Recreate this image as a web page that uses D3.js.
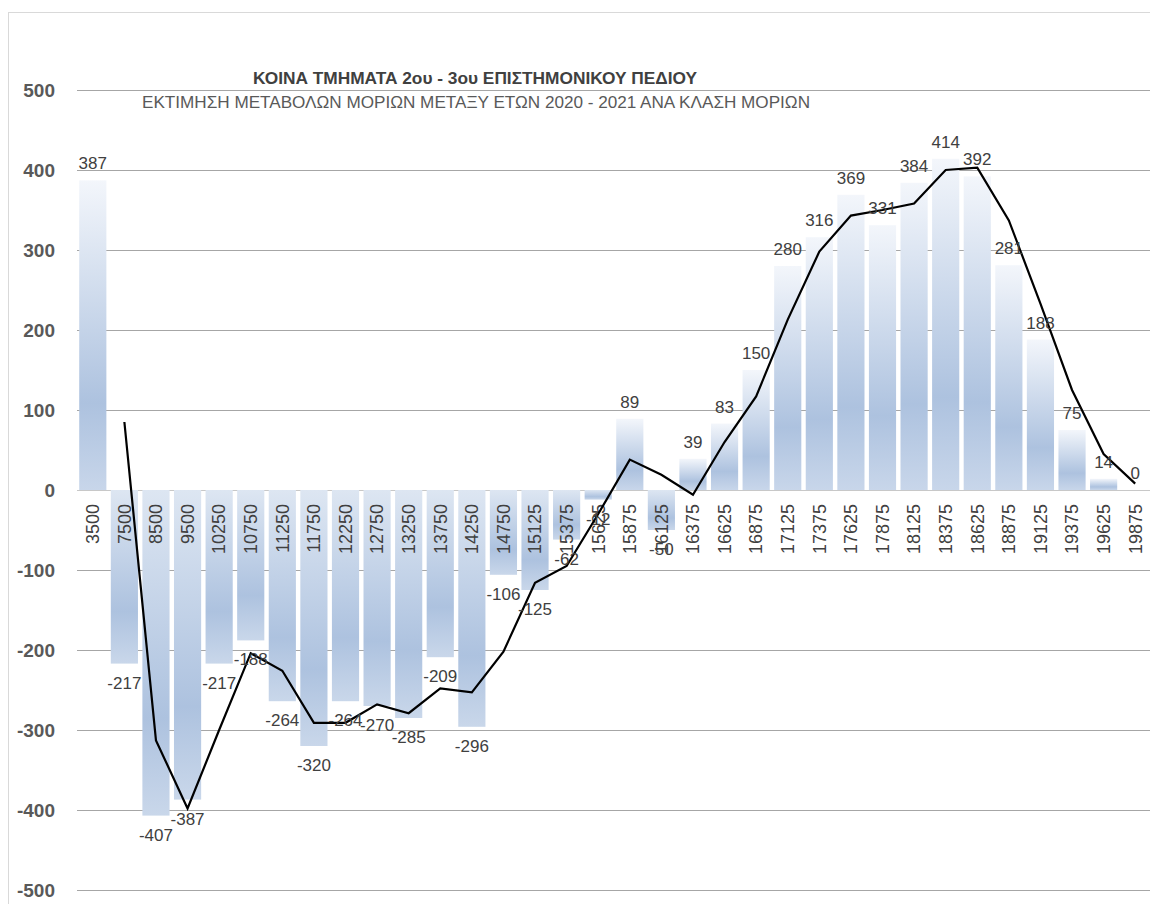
<!DOCTYPE html>
<html>
<head>
<meta charset="utf-8">
<script src="https://cdn.jsdelivr.net/npm/d3@7"></script>
<style>
  html, body { margin: 0; padding: 0; background: #fff; }
  svg { display: block; }
  text { font-family: "Liberation Sans", "DejaVu Sans", sans-serif; }
</style>
</head>
<body>
<svg id="chart" width="1150" height="904"></svg>
<script>
// ---- data ----
const categories = ["3500","7500","8500","9500","10250","10750","11250","11750","12250","12750",
  "13250","13750","14250","14750","15125","15375","15625","15875","16125","16375",
  "16625","16875","17125","17375","17625","17875","18125","18375","18625","18875",
  "19125","19375","19625","19875"];
const barValues = [387,-217,-407,-387,-217,-188,-264,-320,-264,-270,
  -285,-209,-296,-106,-125,-62,-12,89,-50,39,
  83,150,280,316,369,331,384,414,392,281,
  188,75,14,0];
const lineValues = [null,85,-313,-398,-300,-204,-226,-291,-291,-268,
  -279,-248,-253,-202,-116,-95,-30,38,19,-6,
  60,117,213,298,343,350,358,400,403,337,
  233,125,45,8];
const yTicks = [500,400,300,200,100,0,-100,-200,-300,-400,-500];
const titleText = "ΚΟΙΝΑ ΤΜΗΜΑΤΑ 2ου - 3ου ΕΠΙΣΤΗΜΟΝΙΚΟΥ ΠΕΔΙΟΥ";
const subtitleText = "ΕΚΤΙΜΗΣΗ ΜΕΤΑΒΟΛΩΝ ΜΟΡΙΩΝ ΜΕΤΑΞΥ ΕΤΩΝ 2020 - 2021 ΑΝΑ ΚΛΑΣΗ ΜΟΡΙΩΝ";

// ---- layout ----
const svg = d3.select("#chart");
const plotLeft = 77, plotRight = 1151;
const x = d3.scaleBand().domain(categories).range([plotLeft, plotRight])
  .paddingInner(0.14).paddingOuter(0.07);
const y = d3.scaleLinear().domain([-500, 500]).range([890, 90]);

// border
svg.append("rect").attr("x", 8.5).attr("y", 12.5).attr("width", 1160).attr("height", 920)
  .attr("fill", "#fff").attr("stroke", "#d9d9d9").attr("stroke-width", 1);

// gradients
const defs = svg.append("defs");
const gPos = defs.append("linearGradient").attr("id", "gPos")
  .attr("x1", 0).attr("y1", 0).attr("x2", 0).attr("y2", 1);
gPos.append("stop").attr("offset", 0).attr("stop-color", "#f3f6fb");
gPos.append("stop").attr("offset", 0.72).attr("stop-color", "#adc2df");
gPos.append("stop").attr("offset", 1).attr("stop-color", "#c8d6ea");
const gNeg = defs.append("linearGradient").attr("id", "gNeg")
  .attr("x1", 0).attr("y1", 0).attr("x2", 0).attr("y2", 1);
gNeg.append("stop").attr("offset", 0).attr("stop-color", "#dde6f2");
gNeg.append("stop").attr("offset", 0.7).attr("stop-color", "#adc2df");
gNeg.append("stop").attr("offset", 1).attr("stop-color", "#c9d7ea");

// gridlines
svg.append("g").selectAll("line").data(yTicks).join("line")
  .attr("x1", plotLeft).attr("x2", 1150)
  .attr("y1", d => Math.round(y(d)) + 0.5).attr("y2", d => Math.round(y(d)) + 0.5)
  .attr("stroke", d => d === 0 ? "#c8c8c8" : "#a6a6a6").attr("stroke-width", 1.2);

// y axis labels
svg.append("g").selectAll("text").data(yTicks).join("text")
  .attr("x", 55).attr("y", d => y(d)).attr("dy", "0.35em")
  .attr("text-anchor", "end").attr("font-size", 19).attr("font-weight", "bold")
  .attr("fill", "#595959").text(d => d);

// bars
svg.append("g").selectAll("rect").data(categories).join("rect")
  .attr("x", d => x(d))
  .attr("width", x.bandwidth())
  .attr("y", (d, i) => Math.min(y(0), y(barValues[i])))
  .attr("height", (d, i) => Math.abs(y(barValues[i]) - y(0)))
  .attr("fill", (d, i) => barValues[i] >= 0 ? "url(#gPos)" : "url(#gNeg)");

// category labels (rotated)
svg.append("g").selectAll("text").data(categories).join("text")
  .attr("transform", d => `translate(${x(d) + x.bandwidth() / 2},${y(0) + 14}) rotate(-90)`)
  .attr("dy", "0.35em").attr("text-anchor", "end")
  .attr("font-size", 18).attr("fill", "#404040").text(d => d);

// line
const line = d3.line()
  .defined(d => d.v !== null)
  .x(d => x(d.c) + x.bandwidth() / 2)
  .y(d => y(d.v));
svg.append("path")
  .datum(categories.map((c, i) => ({ c, v: lineValues[i] })))
  .attr("d", line).attr("fill", "none").attr("stroke", "#000")
  .attr("stroke-width", 2.2).attr("stroke-linejoin", "miter");

// value labels
svg.append("g").selectAll("text").data(categories).join("text")
  .attr("x", d => x(d) + x.bandwidth() / 2)
  .attr("y", (d, i) => barValues[i] >= 0 ? y(barValues[i]) - 11 : y(barValues[i]) + 25)
  .attr("text-anchor", "middle").attr("font-size", 17).attr("fill", "#404040")
  .text((d, i) => barValues[i]);

// titles
svg.append("text").attr("x", 475).attr("y", 84).attr("text-anchor", "middle")
  .attr("font-size", 16).attr("font-weight", "bold").attr("fill", "#404040")
  .attr("textLength", 444).attr("lengthAdjust", "spacingAndGlyphs")
  .text(titleText);
svg.append("text").attr("x", 476).attr("y", 108).attr("text-anchor", "middle")
  .attr("font-size", 16).attr("fill", "#595959")
  .attr("textLength", 668).attr("lengthAdjust", "spacingAndGlyphs")
  .text(subtitleText);
</script>
</body>
</html>
